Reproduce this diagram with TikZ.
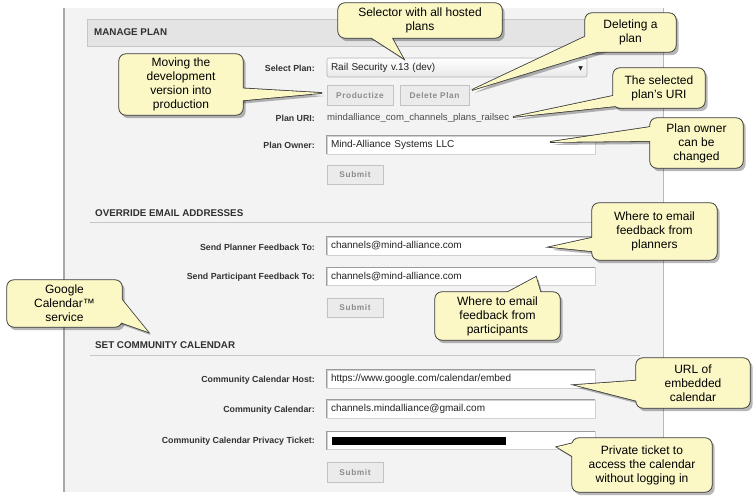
\documentclass[tikz,border=0pt]{standalone}
\usepackage{fontspec}
\setmainfont{Liberation Sans}
\newfontfamily\btnfont{Liberation Sans}[LetterSpace=7]
\newfontfamily\symf{DejaVu Sans}
\usetikzlibrary{calc}
\pgfdeclarelayer{panel}
\pgfdeclarelayer{bubbles}
\pgfsetlayers{panel,bubbles,main}
\definecolor{panelbg}{HTML}{F3F3F3}
\definecolor{panelline}{HTML}{A8A8A8}
\definecolor{hdrbg}{HTML}{E4E4E4}
\definecolor{hdrline}{HTML}{C6C6C6}
\definecolor{lbltext}{HTML}{333333}
\definecolor{sectext}{HTML}{303030}
\definecolor{fieldline}{HTML}{D0D0D0}
\definecolor{fieldtop}{HTML}{9C9C9C}
\definecolor{fieldtext}{HTML}{222222}
\definecolor{btnfill}{HTML}{EBEBEB}
\definecolor{btnline}{HTML}{C2C2C2}
\definecolor{btntext}{HTML}{8C8C8C}
\definecolor{bubfill}{HTML}{FBF8C6}
\definecolor{bubline}{HTML}{3A3A3A}
\tikzset{
  lbl/.style={anchor=east, inner sep=0pt, font=\fontsize{8.8}{10}\selectfont\bfseries, text=lbltext},
  sec/.style={anchor=west, inner sep=0pt, font=\fontsize{9.8}{11}\selectfont\bfseries, text=sectext},
  field/.style={fill=white, draw=fieldline, line width=.6pt, inner xsep=4pt, inner ysep=0pt,
    text width=260pt, minimum height=18pt, align=left, font=\fontsize{10}{12}\selectfont, text=fieldtext},
  btn/.style={fill=btnfill, draw=btnline, line width=.7pt, inner sep=0pt, minimum height=19.5pt,
    font=\btnfont\fontsize{8.3}{10}\selectfont\bfseries, text=btntext},
  bub/.style={inner sep=0pt, align=center, font=\fontsize{12}{14}\selectfont, text=black},
  bubshadow/.style={fill=black, opacity=.28},
}
\newcommand\bubble[4]{%
  \begin{pgfonlayer}{bubbles}
    \fill[bubshadow] ([shift={(2.5,3)}]#1.north west) [rounded corners=7pt] rectangle ([shift={(2.5,3)}]#1.south east);
    \fill[bubshadow] ([shift={(2.5,3)}]#2) -- ([shift={(2.5,3)}]#3) -- ([shift={(2.5,3)}]#4) -- cycle;
    \filldraw[fill=bubfill, draw=bubline, line width=1.6pt, line join=miter] (#2) -- (#3) -- (#4) -- cycle;
    \filldraw[fill=bubfill, draw=bubline, line width=.8pt, rounded corners=7pt] (#1.north west) rectangle (#1.south east);
    \fill[bubfill] (#2) -- (#3) -- (#4) -- cycle;
  \end{pgfonlayer}}
\newcommand\fieldtop[1]{\draw[fieldtop, line width=.8pt] (#1.south west) -- (#1.north west) -- (#1.north east);}
\begin{document}
\begin{tikzpicture}[x=1pt, y=-1pt]
\useasboundingbox (0,0) rectangle (756,500);
\begin{pgfonlayer}{panel}
  \fill[white] (0,0) rectangle (756,500);
  \fill[panelbg] (64,8) rectangle (663,492);
  \draw[panelline, line width=1.2pt] (64,8) -- (64,492);
  \draw[panelline!80, line width=.8pt] (663,8) -- (663,492);
  % MANAGE PLAN
  \filldraw[fill=hdrbg, draw=hdrline, line width=.6pt] (87,19) rectangle (650,46);
  \node[sec] (smanage) at (94,32.5) {MANAGE PLAN};
  \node[lbl] (lsel) at (315,68) {Select Plan:};
  \node[field, text width=252pt, minimum height=19pt, rounded corners=2pt, top color=white, bottom color=black!9, draw=black!30] (sel) at (457,67.5)
    {Rail Security v.13 (dev)\hfill{\symf\fontsize{6}{6}\selectfont ▼}};
  \node[btn, minimum width=66pt] (bprod) at (360,95.5) {Productize};
  \node[btn, minimum width=69pt] (bdel) at (434.5,95.5) {Delete Plan};
  \node[lbl] (luri) at (315,118.5) {Plan URI:};
  \node[anchor=west, inner sep=0pt, font=\fontsize{9.6}{12}\selectfont, text=black!70] (vuri) at (327,118.5) {mindalliance\_com\_channels\_plans\_railsec};
  \node[lbl] (lowner) at (315,145) {Plan Owner:};
  \node[field] (fowner) at (461,145) {Mind-Alliance Systems LLC};
  \fieldtop{fowner}
  \node[btn, minimum width=56pt] (bsub1) at (355,175) {Submit};
  % OVERRIDE EMAIL ADDRESSES
  \node[sec] (soverride) at (95,213) {OVERRIDE EMAIL ADDRESSES};
  \draw[hdrline, line width=.8pt] (90,222) -- (640,222);
  \node[lbl] (lplanner) at (315,247) {Send Planner Feedback To:};
  \node[field] (fplanner) at (461,246) {channels@mind-alliance.com};
  \fieldtop{fplanner}
  \node[lbl] (lpart) at (315,277) {Send Participant Feedback To:};
  \node[field] (fpart) at (461,276.5) {channels@mind-alliance.com};
  \fieldtop{fpart}
  \node[btn, minimum width=56pt] (bsub2) at (355,308) {Submit};
  % SET COMMUNITY CALENDAR
  \node[sec] (scal) at (95,345) {SET COMMUNITY CALENDAR};
  \draw[hdrline, line width=.8pt] (90,355) -- (640,355);
  \node[lbl] (lhost) at (315,380) {Community Calendar Host:};
  \node[field] (fhost) at (461,379) {https://www.google.com/calendar/embed};
  \fieldtop{fhost}
  \node[lbl] (lcal) at (315,410) {Community Calendar:};
  \node[field] (fcal) at (461,409) {channels.mindalliance@gmail.com};
  \fieldtop{fcal}
  \node[lbl] (lticket) at (315,441.5) {Community Calendar Privacy Ticket:};
  \node[field] (fticket) at (461,440.5) {};
  \fieldtop{fticket}
  \fill[black] (332,437) rectangle (506,445);
  \node[btn, minimum width=56pt] (bsub3) at (355,472.5) {Submit};
\end{pgfonlayer}
% tips
\coordinate (t1) at (403,58);
\coordinate (t2) at (472,90);
\coordinate (t3) at (322,93);
\coordinate (t4) at (513,117);
\coordinate (t5) at (550,142);
\coordinate (t6) at (550,247);
\coordinate (t7) at (536,277);
\coordinate (t8) at (575,385);
\coordinate (t9) at (557,447);
\coordinate (t10) at (148,332);
% callouts
\node[bub, minimum width=164pt, minimum height=35pt] (c1) at (420,20.5) {Selector with all hosted\\plans};
\bubble{c1}{t1}{361,31}{388,31}
\node[bub, minimum width=91pt, minimum height=39pt] (c2) at (630.5,32.5) {Deleting a\\plan};
\bubble{c2}{t2}{595,32}{610,48}
\node[bub, minimum width=124pt, minimum height=61pt] (c3) at (181,84.5) {Moving the\\development\\version into\\production};
\bubble{c3}{t3}{236,88}{236,101}
\node[bub, minimum width=92pt, minimum height=40pt] (c4) at (659,88) {The selected\\plan's URI};
\bubble{c4}{t4}{622,94}{636,104}
\node[bub, minimum width=93pt, minimum height=50pt] (c5) at (696.5,143) {Plan owner\\can be\\changed};
\bubble{c5}{t5}{657,126}{657,141}
\node[bub, minimum width=125pt, minimum height=57pt] (c6) at (654.5,231.5) {Where to email\\feedback from\\planners};
\bubble{c6}{t6}{600,236}{600,252}
\node[bub, minimum width=125pt, minimum height=48pt] (c7) at (497.5,316) {Where to email\\feedback from\\participants};
\bubble{c7}{t7}{497,298}{542,298}
\node[bub, minimum width=114pt, minimum height=50pt] (c8) at (693,383) {URL of\\embedded\\calendar};
\bubble{c8}{t8}{645,380}{645,403}
\node[bub, minimum width=140pt, minimum height=54pt] (c9) at (642,465) {Private ticket to\\access the calendar\\without logging in};
\bubble{c9}{t9}{582,441}{582,462}
\node[bub, minimum width=115pt, minimum height=47pt] (c10) at (64.5,303.5) {Google\\Calendar™\\service};
\bubble{c10}{t10}{114,290}{114,320}
\end{tikzpicture}
\end{document}
